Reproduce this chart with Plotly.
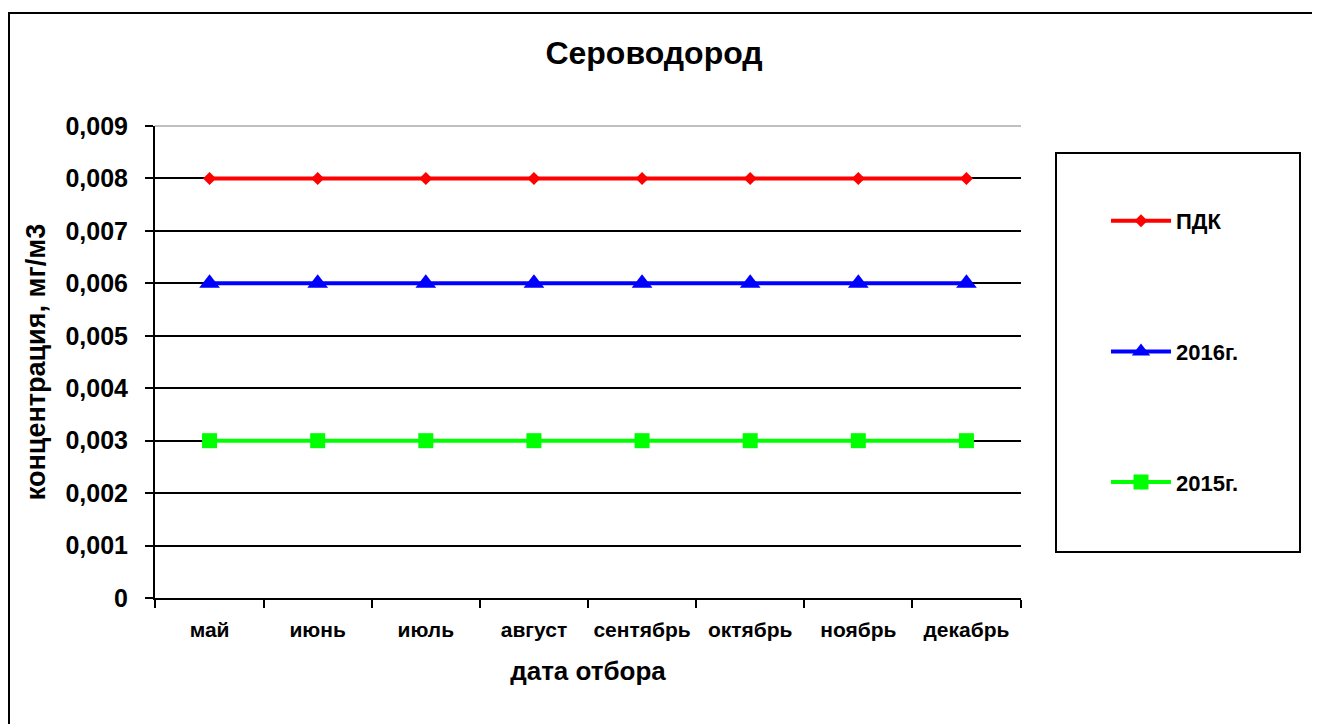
import plotly.graph_objects as go

months = ["май", "июнь", "июль", "август", "сентябрь", "октябрь", "ноябрь", "декабрь"]
pdk = [0.008, 0.008, 0.008, 0.008, 0.008, 0.008, 0.008, 0.008]
y2016 = [0.006, 0.006, 0.006, 0.006, 0.006, 0.006, 0.006, 0.006]
y2015 = [0.003, 0.003, 0.003, 0.003, 0.003, 0.003, 0.003, 0.003]
ytick_vals = [0, 0.001, 0.002, 0.003, 0.004, 0.005, 0.006, 0.007, 0.008, 0.009]
ytick_text = ["0", "0,001", "0,002", "0,003", "0,004", "0,005", "0,006", "0,007", "0,008", "0,009"]

FONT = "Liberation Sans, Arial, sans-serif"
W, H = 1320, 724
OFF = 7  # page body offset
L0, R0, T0, B0 = 154, 300, 125, 127  # plot area in page pixels (reference)
PW, PH = 1020 - L0, 597 - T0
L, T = L0 - OFF, T0 - OFF
R = W - L - PW
B = H - T - PH

def px(x):
    return (x - L0) / PW

def py(y):
    return (597 - y) / PH

fig = go.Figure()
fig.add_trace(go.Scatter(x=months, y=pdk, name="<b>ПДК</b>", mode="lines+markers",
                         line=dict(color="#FF0000", width=4),
                         marker=dict(symbol="diamond", size=10, color="#FF0000"),
                         legendgroup="a"))
fig.add_trace(go.Scatter(x=months, y=y2016, name="<b>2016г.</b>", mode="lines+markers",
                         line=dict(color="#0000FF", width=4),
                         marker=dict(symbol="triangle-up", size=18, color="#0000FF"),
                         legendgroup="b"))
fig.add_trace(go.Scatter(x=months, y=y2015, name="<b>2015г.</b>", mode="lines+markers",
                         line=dict(color="#00FF00", width=4),
                         marker=dict(symbol="square", size=15, color="#00FF00"),
                         legendgroup="c"))

fig.update_layout(
    width=W, height=H,
    margin=dict(l=L, r=R, t=T, b=B),
    paper_bgcolor="white", plot_bgcolor="white",
    font=dict(family=FONT, color="black"),
    title=dict(text="<b>Сероводород</b>", x=(653 - OFF) / W, xanchor="center",
               y=1 - (52 - OFF) / H, yanchor="middle", font=dict(size=32, family=FONT, color="black")),
    showlegend=True,
    legend=dict(x=px(1105), xanchor="left", y=py(199), yanchor="top",
                bgcolor="rgba(0,0,0,0)", borderwidth=0,
                font=dict(size=22, family=FONT, color="black"),
                tracegroupgap=99, itemwidth=60),
    xaxis=dict(
        type="category", tickson="boundaries",
        showline=True, linecolor="black", linewidth=2,
        ticks="outside", ticklen=8, tickwidth=2, tickcolor="black",
        showgrid=False, zeroline=False,
        tickfont=dict(size=21, family=FONT, color="black"),
        ticklabelstandoff=12,
        title=dict(text="<b>дата отбора</b>", font=dict(size=26, family=FONT, color="black"), standoff=22),
        tickprefix="<b>", ticksuffix="</b>",
    ),
    yaxis=dict(
        range=[0, 0.009], tickvals=ytick_vals, ticktext=["<b>" + t + "</b>" for t in ytick_text],
        showline=True, linecolor="black", linewidth=2,
        ticks="outside", ticklen=8, tickwidth=2, tickcolor="black",
        showgrid=True, gridcolor="black", gridwidth=1.5, zeroline=False,
        tickfont=dict(size=25, family=FONT, color="black"),
        ticklabelstandoff=12,
        title=dict(text="<b>концентрация, мг/м3</b>", font=dict(size=27, family=FONT, color="black"), standoff=12),
    ),
    shapes=[
        dict(type="line", xref="paper", yref="paper", x0=0, x1=1, y0=1, y1=1,
             line=dict(color="#C0C0C0", width=2), layer="above"),
        dict(type="rect", xref="paper", yref="paper", x0=px(1055), x1=px(1299), y0=py(551), y1=py(152),
             line=dict(color="black", width=2), fillcolor="rgba(0,0,0,0)", layer="above"),
        dict(type="rect", xref="paper", yref="paper", x0=px(8), x1=px(1340), y0=py(745), y1=py(12),
             line=dict(color="black", width=2), fillcolor="rgba(0,0,0,0)", layer="above"),
    ],
)

fig.write_html("out.html")
